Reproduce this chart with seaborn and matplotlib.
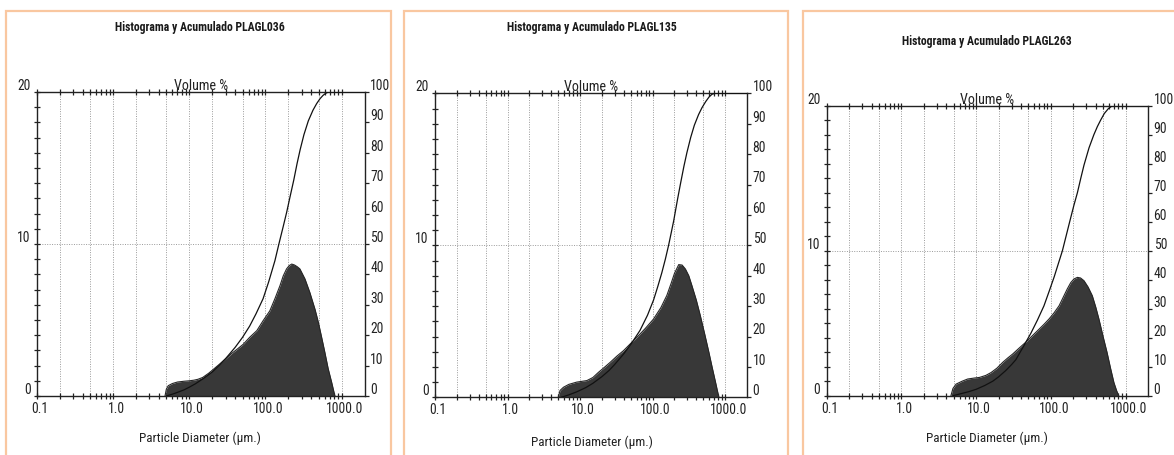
import os
import numpy as np
import pandas as pd
import matplotlib
matplotlib.use("Agg")
import matplotlib.pyplot as plt
import seaborn as sns
from matplotlib import font_manager
from matplotlib.patches import Rectangle
from matplotlib.ticker import FixedLocator, NullFormatter, FixedFormatter
from matplotlib.textpath import TextPath
from matplotlib.transforms import ScaledTranslation

# ---------------- data ----------------
titles = ["Histograma y Acumulado PLAGL036",
          "Histograma y Acumulado PLAGL135",
          "Histograma y Acumulado PLAGL263"]

# histogram (Volume %) diameters (um) and values
hist_d1 = [4.8, 5.0, 5.3, 6.0, 7.0, 8.5, 10, 11.5, 13, 15, 18, 21, 25, 30, 36, 43, 51, 62, 77, 93,
           114, 133, 155, 171, 189, 205, 221, 240, 262, 283, 330, 383, 447, 494, 546, 600, 665, 739, 780, 815]
hist_v1 = [0, 0.45, 0.68, 0.82, 0.92, 0.97, 1.0, 1.04, 1.1, 1.22, 1.5, 1.78, 2.1, 2.45, 2.8, 3.1, 3.4, 3.86, 4.3, 4.95,
           5.6, 6.4, 7.26, 7.9, 8.36, 8.58, 8.68, 8.62, 8.5, 8.36, 7.7, 6.8, 5.7, 4.85, 3.86, 2.9, 1.8, 0.9, 0.4, 0]

hist_d2 = [5.0, 5.3, 5.9, 7, 9, 12.4, 15, 17.9, 22, 26, 32, 39.7, 50, 64, 80, 103, 130, 157, 180, 200,
           229, 255, 283, 315, 348, 400, 453, 520, 594, 660, 736, 780, 820]
hist_v2 = [0, 0.45, 0.66, 0.85, 1.0, 1.1, 1.3, 1.64, 2.0, 2.3, 2.7, 3.07, 3.55, 4.06, 4.55, 5.15, 5.9, 6.7, 7.5, 8.15,
           8.73, 8.7, 8.44, 8.0, 7.35, 6.4, 5.4, 4.2, 3.0, 2.0, 1.0, 0.45, 0]

hist_d3 = [4.6, 4.9, 5.4, 6.5, 7.7, 9.5, 11.1, 13.5, 15.9, 19, 22.7, 26.5, 30.8, 38, 46.5, 57, 70, 82, 95, 110,
           129, 147, 166, 185, 204, 227, 250, 278, 315, 359, 400, 440, 500, 565, 630, 700, 760, 812]
hist_v3 = [0, 0.5, 0.8, 1.0, 1.15, 1.22, 1.26, 1.4, 1.6, 1.9, 2.3, 2.6, 2.87, 3.3, 3.7, 4.15, 4.6, 4.95, 5.3, 5.7,
           6.2, 6.8, 7.36, 7.8, 8.05, 8.16, 8.12, 7.93, 7.5, 6.9, 6.1, 5.3, 4.1, 3.0, 1.9, 0.9, 0.35, 0]

# cumulative (%) diameters and values
cum_d1 = [5.0, 6, 7, 8.5, 10, 12, 15, 20, 25, 30, 40, 50, 62, 75, 93, 110, 133, 150, 170, 190, 210, 235,
          260, 285, 320, 365, 420, 470, 520, 570, 620, 670, 2000]
cum_v1 = [0, 0.6, 1.2, 2.0, 2.9, 4.0, 5.6, 7.9, 10.2, 12.3, 16, 19.3, 23, 27, 32, 37.5, 44.5, 50, 55.5,
          60.5, 65.5, 71, 76.5, 81, 86, 90.5, 94, 96.2, 97.8, 98.9, 99.6, 100, 100]

cum_d2 = [5.5, 7, 9, 12, 15, 20, 25, 30, 40, 52, 67, 85, 103, 118, 134, 150, 166, 180, 195, 220, 241, 270,
          297, 335, 376, 430, 480, 540, 600, 660, 720, 2000]
cum_v2 = [0, 0.8, 1.8, 3.2, 4.6, 6.8, 8.8, 10.8, 14.3, 18, 22, 27, 32, 36.5, 41, 45.5, 50, 54, 58, 65,
          70, 76, 80.5, 85.5, 89.5, 93, 95.3, 97.3, 98.8, 99.7, 100, 100]

cum_d3 = [4.9, 6.5, 8, 10, 13, 16.7, 20, 25, 30, 34, 42, 54, 66, 81, 95, 111, 126, 143, 160, 179, 203,
          227, 252, 278, 325, 377, 420, 464, 520, 590, 665, 2000]
cum_v3 = [0, 0.8, 1.4, 2.2, 3.5, 5, 6.5, 8.7, 10.8, 12.4, 16.5, 21.5, 26, 31, 36, 41, 45.5, 50, 55, 60, 65.5,
          70, 75, 79.5, 85.5, 90, 92.8, 95, 97.3, 99, 100, 100]

x_major = [0.1, 1, 10, 100, 1000]
x_major_labels = ["0.1", "1.0", "10.0", "100.0", "1000.0"]
grid_d = [0.2, 0.5, 1, 2, 5, 10, 20, 50, 100, 200, 500, 1000]
left_ticks = [0, 10, 20]
right_ticks = [0, 10, 20, 30, 40, 50, 60, 70, 80, 90, 100]

# ---------------- style ----------------
sns.set_theme(style="white")


def stretch_val(s):
    if isinstance(s, (int, float)):
        return s
    table = {"ultra-condensed": 100, "extra-condensed": 200, "condensed": 300, "semi-condensed": 400,
             "normal": 500}
    return table.get(str(s), 500)


def find_narrow():
    prefs = ["liberation sans narrow", "arial narrow", "nimbus sans narrow", "liberation sans",
             "roboto", "open sans", "noto sans", "dejavu sans", "inter", "lato"]
    found = {}
    for f in font_manager.fontManager.ttflist:
        nm = f.name.lower()
        fn = os.path.basename(f.fname).lower()
        sv = stretch_val(f.stretch)
        is_narrow = ("narrow" in nm or "condensed" in nm or "narrow" in fn or "condensed" in fn or sv < 500)
        if not is_narrow or "extra" in fn or "ultra" in fn or "mono" in fn or "serif" in fn:
            continue
        if f.style != "normal" or "italic" in fn or "oblique" in fn:
            continue
        w = f.weight if isinstance(f.weight, int) else (700 if "bold" in str(f.weight) else 400)
        d = found.setdefault(nm, {})
        if 350 <= w <= 450 and "regular" not in d:
            d["regular"] = f.fname
        if 650 <= w <= 750 and "bold" not in d:
            d["bold"] = f.fname
    for p in prefs:
        for key, d in found.items():
            if key.startswith(p) and "regular" in d:
                return d.get("regular"), d.get("bold", d.get("regular"))
    for key, d in found.items():
        if "regular" in d:
            return d.get("regular"), d.get("bold", d.get("regular"))
    return None, None


reg_file, bold_file = find_narrow()
if reg_file:
    fp_reg = font_manager.FontProperties(fname=reg_file)
    fp_bold = font_manager.FontProperties(fname=bold_file)
    wexp = 0.35
else:
    fp_reg = font_manager.FontProperties(family="Liberation Sans")
    fp_bold = font_manager.FontProperties(family="Liberation Sans", weight="bold")
    wexp = 0.5


def fit_size(text, fp, target_px, height_pt):
    wpt = TextPath((0, 0), text, size=10, prop=fp).get_extents().width
    wsize = 10 * (target_px * 72 / 100) / wpt
    return float(wsize ** wexp * height_pt ** (1 - wexp))


fs_tick = fit_size("1000.0", fp_reg, 28, 9.3) * 1.12
fs_title = fit_size(titles[0], fp_bold, 158, 10) * 0.92
fs_xlab = fit_size("Particle Diameter (µm.)", fp_reg, 103, 9.5) * 1.06
fs_vol = fit_size("Volume %", fp_reg, 46, 9.5) * 1.1

W, H = 1174, 456
fig = plt.figure(figsize=(W / 100, H / 100), dpi=100)
fig.patch.set_facecolor("white")


def frac_rect(l, r, t, b):
    return [l / W, (H - b) / H, (r - l) / W, (b - t) / H]


# panel borders (pixels: left, right); top at y=12
borders = [(6, 391), (404, 788), (803, 1180)]
for (l, r) in borders:
    fig.patches.append(Rectangle((l / W, -0.05), (r - l) / W, (H - 12) / H + 0.05,
                                 transform=fig.transFigure, fill=False,
                                 edgecolor="#F9C7A0", linewidth=1.6))

axes_px = [(36.9, 364.6, 93, 397), (435, 747, 94.3, 398.3), (826.7, 1148, 106.7, 396.7)]
title_px = [(200, 27), (592, 28), (987, 42)]
xlabel_px = [(200, 438), (592, 442), (987, 438)]

hist_sets = [(hist_d1, hist_v1), (hist_d2, hist_v2), (hist_d3, hist_v3)]
cum_sets = [(cum_d1, cum_v1), (cum_d2, cum_v2), (cum_d3, cum_v3)]

minor_x = [m * 10.0 ** e for e in range(-1, 4) for m in range(2, 10) if m * 10.0 ** e < 2000]
ink = "#222222"
shift_r = ScaledTranslation(3 / 100, 0, fig.dpi_scale_trans)

for i in range(3):
    l, r, t, b = axes_px[i]
    ax = fig.add_axes(frac_rect(l, r, t, b))
    ax.set_xscale("log")
    ax.set_facecolor("none")

    # grid
    for g in grid_d:
        ax.axvline(g, color="#9a9a9a", lw=0.7, ls=(0, (1, 1.5)), zorder=0)
    ax.axhline(10, color="#9a9a9a", lw=0.7, ls=(0, (1, 1.5)), zorder=0)

    hd, hv = hist_sets[i]
    hdf = pd.DataFrame({"d": hd, "v": hv})
    ax.fill_between(hdf["d"], 0, hdf["v"], color="#383838", lw=0, zorder=2)
    sns.lineplot(data=hdf, x="d", y="v", ax=ax, color="#262626", lw=0.8, zorder=3, sort=False)

    ax2 = ax.twinx()
    cd, cv = cum_sets[i]
    cdf = pd.DataFrame({"d": cd, "c": cv})
    sns.lineplot(data=cdf, x="d", y="c", ax=ax2, color="#111111", lw=0.9, sort=False)

    # limits & ticks (set after both plots so nothing resets them)
    ax.set_xscale("log")
    ax.set_xlim(0.1, 2000)
    ax.set_ylim(0, 20)
    ax2.set_ylim(0, 100)

    for s in ax.spines.values():
        s.set_color(ink)
        s.set_linewidth(1.0)
    for s in ax2.spines.values():
        s.set_visible(False)

    ax.xaxis.set_major_locator(FixedLocator(x_major))
    ax.xaxis.set_major_formatter(FixedFormatter(x_major_labels))
    ax.xaxis.set_minor_locator(FixedLocator(minor_x))
    ax.xaxis.set_minor_formatter(NullFormatter())
    ax.tick_params(axis="x", which="both", direction="inout", length=5, width=0.9,
                   top=True, bottom=True, colors=ink, pad=1)

    ax.yaxis.set_major_locator(FixedLocator(left_ticks))
    ax.yaxis.set_minor_locator(FixedLocator(list(range(0, 21))))
    ax.tick_params(axis="y", which="both", direction="inout", length=5, width=0.9,
                   left=True, right=False, pad=2, colors=ink)
    ax.set_xlabel("")
    ax.set_ylabel("")

    ax2.yaxis.set_major_locator(FixedLocator(right_ticks))
    ax2.tick_params(axis="y", which="both", direction="out", length=3, width=0.9, pad=1, colors=ink)
    ax2.set_ylabel("")
    ax2.set_xlabel("")

    for lab in ax.get_xticklabels():
        lab.set_fontproperties(fp_reg)
        lab.set_fontsize(fs_tick)
        lab.set_transform(lab.get_transform() + shift_r)
    for lab in ax.get_yticklabels():
        lab.set_fontproperties(fp_reg)
        lab.set_fontsize(fs_tick)
        lab.set_va("bottom")
    for lab in ax2.get_yticklabels():
        lab.set_fontproperties(fp_reg)
        lab.set_fontsize(fs_tick)
        lab.set_va("bottom")

    fig.text(title_px[i][0] / W, 1 - title_px[i][1] / H, titles[i], ha="center", va="center",
             fontproperties=fp_bold, fontsize=fs_title, color="#1a1a1a")
    fig.text((l + r) / 2 / W, 1 - (t - 7) / H, "Volume %", ha="center", va="center",
             fontproperties=fp_reg, fontsize=fs_vol, color=ink)
    fig.text(xlabel_px[i][0] / W, 1 - xlabel_px[i][1] / H, "Particle Diameter (µm.)", ha="center",
             va="center", fontproperties=fp_reg, fontsize=fs_xlab, color=ink)

fig.savefig("out.png", dpi=100, facecolor="white")
